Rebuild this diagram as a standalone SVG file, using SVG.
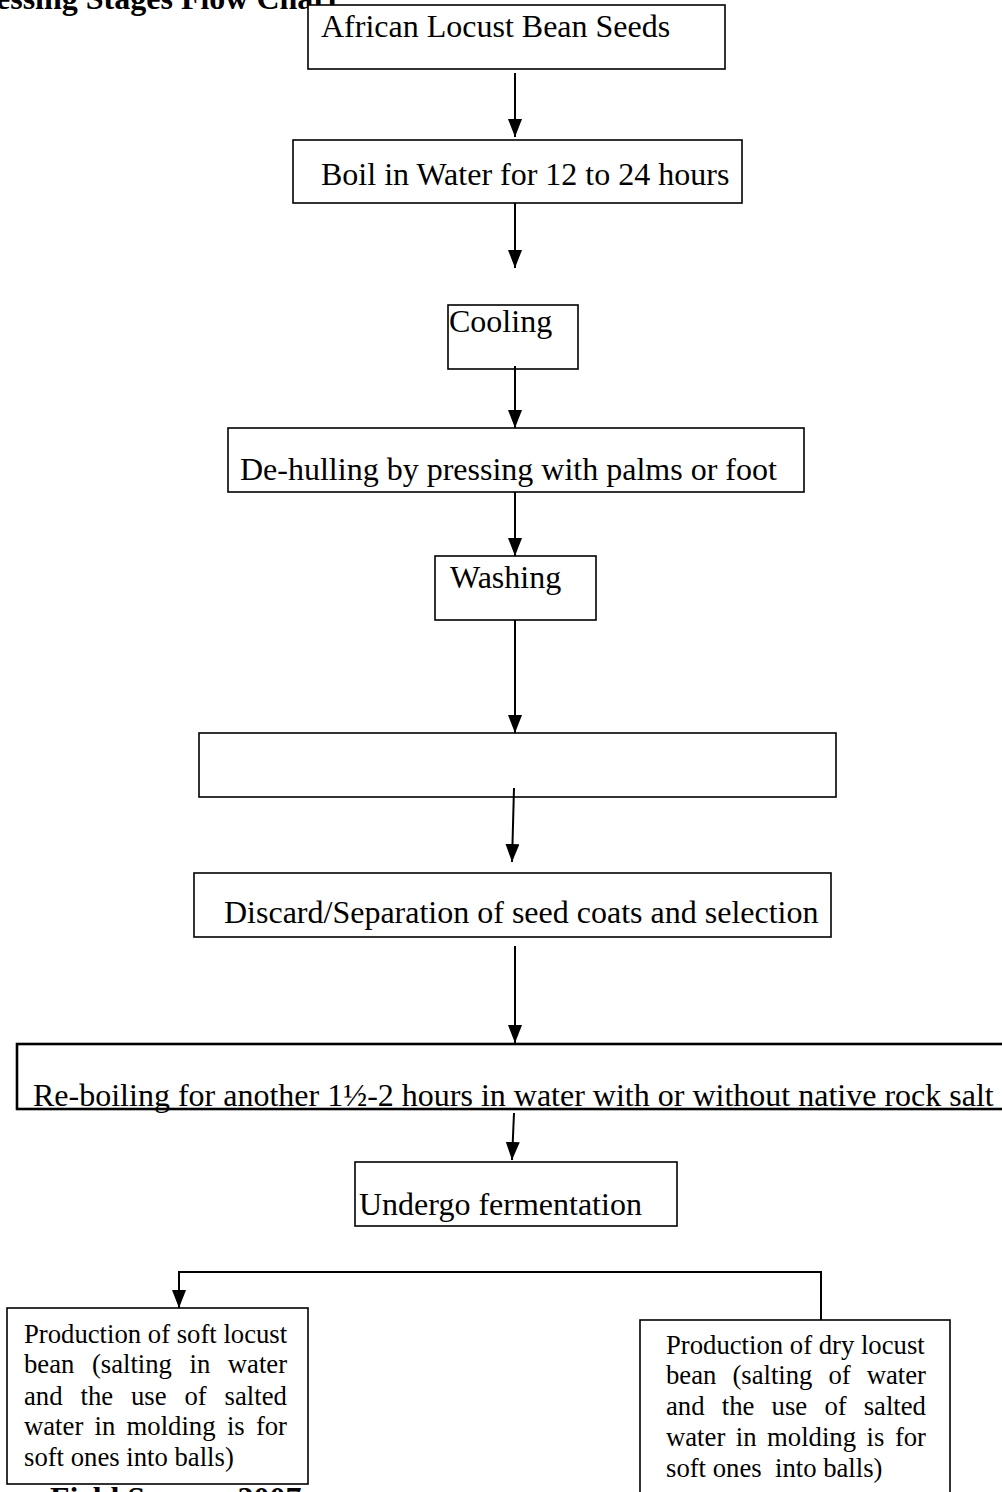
<svg xmlns="http://www.w3.org/2000/svg" width="1002" height="1492" viewBox="0 0 1002 1492">
<style>
.box{fill:#fff;stroke:#000;stroke-width:1.6}
.t{font-family:"Liberation Serif","Times New Roman",serif;font-size:32px;fill:#000}
.s{font-family:"Liberation Serif","Times New Roman",serif;font-size:26.7px;fill:#000}
.e{text-anchor:end}
.b{font-family:"Liberation Serif","Times New Roman",serif;font-size:32px;font-weight:bold;fill:#000}
.conn{stroke:#000;stroke-width:2;fill:none;marker-end:url(#ah)}
</style>
<defs>
<marker id="ah" viewBox="0 0 18 14" refX="18" refY="7" markerWidth="18" markerHeight="14" markerUnits="userSpaceOnUse" orient="auto">
<path d="M0,0 L18,7 L0,14 z" fill="#000"/>
</marker>
</defs>
<rect width="1002" height="1492" fill="#fff"/>
<text class="b" x="-4" y="9">essing Stages Flow Chart</text>
<g id="n1"><rect class="box" x="308" y="5" width="417" height="64"/><text class="t" x="321" y="37">African Locust Bean Seeds</text></g>
<g id="n2"><rect class="box" x="293" y="140" width="449" height="63"/><text class="t" x="321" y="185">Boil in Water for 12 to 24 hours</text></g>
<g id="n3"><rect class="box" x="448" y="305" width="130" height="64"/><text class="t" x="449" y="332">Cooling</text></g>
<g id="n4"><rect class="box" x="228" y="428" width="576" height="64"/><text class="t" x="240" y="480">De-hulling by pressing with palms or foot</text></g>
<g id="n5"><rect class="box" x="435" y="556" width="161" height="64"/><text class="t" x="450" y="588">Washing</text></g>
<g id="n6"><rect class="box" x="199" y="733" width="637" height="64"/></g>
<g id="n7"><rect class="box" x="194" y="873" width="637" height="64"/><text class="t" x="224" y="923">Discard/Separation of seed coats and selection</text></g>
<g id="n8"><rect class="box" x="17" y="1044" width="1000" height="65" style="stroke-width:2.6"/><text class="t" x="33" y="1106">Re-boiling for another 1½-2 hours in water with or without native rock salt</text></g>
<g id="n9"><rect class="box" x="355" y="1162" width="322" height="64"/><text class="t" x="359" y="1215">Undergo fermentation</text></g>
<g id="n10"><rect class="box" x="7" y="1308" width="301" height="176"/>
<text class="s" x="24" y="1343">Production of soft locust</text>
<text class="s" y="1373"><tspan x="24">bean</tspan><tspan x="91.9">(salting</tspan><tspan x="189.5">in</tspan><tspan x="227.8">water</tspan></text>
<text class="s" y="1405"><tspan x="24">and</tspan><tspan x="80.5">the</tspan><tspan x="131">use</tspan><tspan x="184.5">of</tspan><tspan x="224.6">salted</tspan></text>
<text class="s" y="1435"><tspan x="24">water</tspan><tspan x="94.6">in</tspan><tspan x="126.6">molding</tspan><tspan x="226.9">is</tspan><tspan x="255.9">for</tspan></text>
<text class="s" x="24" y="1466">soft ones into balls)</text>
</g>
<g id="n11"><rect class="box" x="640" y="1320" width="310" height="190"/>
<text class="s" x="666" y="1354">Production of dry locust</text>
<text class="s" y="1384"><tspan x="666">bean</tspan><tspan x="732.4">(salting</tspan><tspan x="828.5">of</tspan><tspan x="866.7">water</tspan></text>
<text class="s" y="1415"><tspan x="666">and</tspan><tspan x="721.8">the</tspan><tspan x="771.6">use</tspan><tspan x="824.4">of</tspan><tspan x="863.7">salted</tspan></text>
<text class="s" y="1446"><tspan x="666">water</tspan><tspan x="735.8">in</tspan><tspan x="767.1">molding</tspan><tspan x="866.6">is</tspan><tspan x="894.9">for</tspan></text>
<text class="s" x="666" y="1477" style="white-space:pre">soft ones  into balls)</text>
</g>
<text class="b" x="50" y="1509">Field Survey, 2007</text>
<g id="connectors">
<line class="conn" x1="515" y1="73" x2="515" y2="137"/>
<line class="conn" x1="515" y1="203" x2="515" y2="268"/>
<line class="conn" x1="515" y1="366" x2="515" y2="428"/>
<line class="conn" x1="515" y1="492" x2="515" y2="556"/>
<line class="conn" x1="515" y1="620" x2="515" y2="733"/>
<line class="conn" x1="514" y1="788" x2="512" y2="862"/>
<line class="conn" x1="515" y1="946" x2="515" y2="1043"/>
<line class="conn" x1="514" y1="1113" x2="512" y2="1160"/>
<polyline class="conn" points="821,1320 821,1272 179,1272 179,1308"/>
</g>
</svg>
